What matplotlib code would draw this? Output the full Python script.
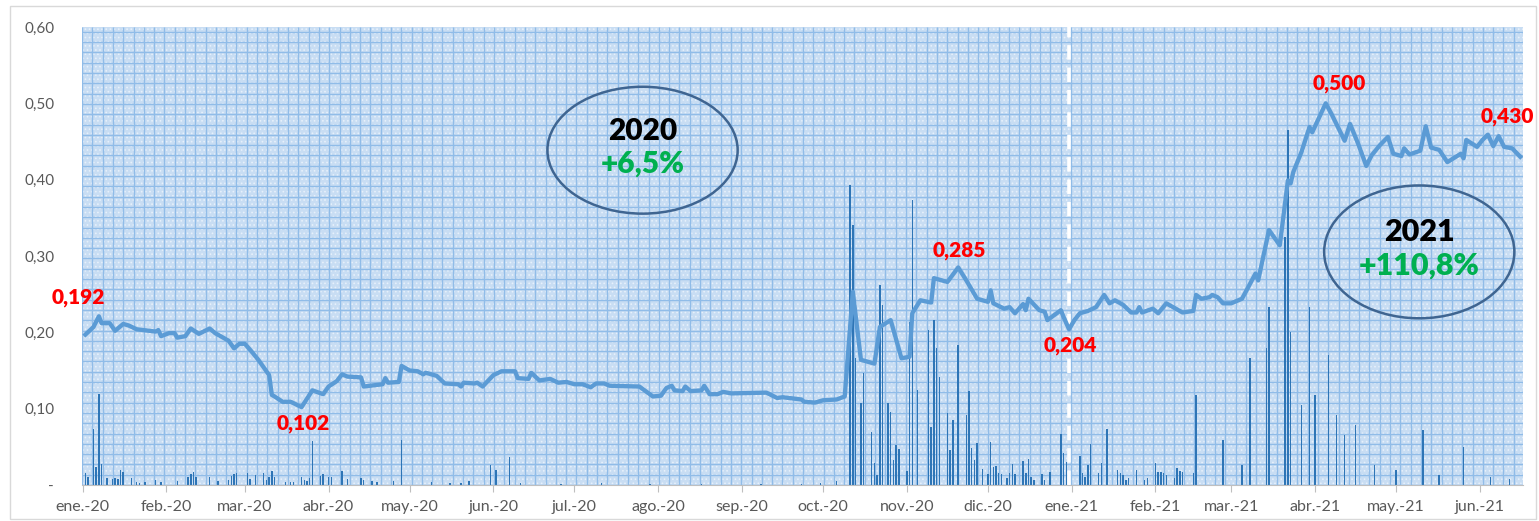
import numpy as np
import pandas as pd
import matplotlib
matplotlib.use('Agg')
import matplotlib.pyplot as plt
from matplotlib.patches import Ellipse, Rectangle
from matplotlib.collections import LineCollection
from matplotlib.ticker import FuncFormatter

'''
Cotizacion diaria 2020-2021 con volumen negociado
'''

# [1] Datos: dia = dias desde el 01/01/2020
inicio = pd.Timestamp('2020-01-01')

dia_precio = [1, 4, 6, 7, 10, 12, 15, 17, 20, 27, 28, 29, 32, 34, 35, 38, 40, 43, 47, 49,
              54, 56, 58, 60, 62, 65, 69, 70, 71, 74, 77, 81, 85, 89, 91, 94, 96, 98, 103, 104,
              111, 112, 113, 117, 118, 121, 124, 126, 127, 131, 134, 139, 140, 141, 145, 146, 148, 152, 155, 160,
              161, 165, 166, 169, 173, 176, 179, 182, 185, 188, 190, 193, 195, 206, 211, 214, 216, 218, 219, 222,
              223, 225, 229, 230, 232, 235, 237, 240, 253, 257, 259, 266, 267, 271, 274, 279, 282, 285, 288, 293,
              295, 299, 303, 306, 307, 310, 314, 315, 320, 324, 327, 331, 335, 336, 337, 341, 343, 345, 348, 349,
              350, 354, 356, 357, 362, 363, 365, 367, 369, 372, 375, 378, 380, 382, 385, 388, 390, 391, 392, 396,
              398, 401, 405, 407, 411, 412, 414, 417, 418, 420, 422, 425, 427, 429, 431, 434, 435, 439, 443, 446,
              447, 448, 451, 454, 455, 460, 462, 467, 469, 472, 475, 477, 480, 483, 485, 488, 489, 491, 495, 497,
              499, 502, 505, 510, 511, 512, 516, 518, 520, 522, 524, 526, 529, 532]
precio = [0.197, 0.207, 0.221, 0.212, 0.212, 0.202, 0.211, 0.209, 0.204, 0.201, 0.203, 0.195, 0.199, 0.199, 0.193, 0.195, 0.205, 0.198, 0.205, 0.199,
          0.189, 0.179, 0.185, 0.185, 0.177, 0.164, 0.144, 0.118, 0.116, 0.109, 0.109, 0.102, 0.124, 0.119, 0.129, 0.136, 0.145, 0.142, 0.141, 0.129,
          0.132, 0.140, 0.134, 0.135, 0.156, 0.150, 0.149, 0.145, 0.147, 0.143, 0.133, 0.132, 0.129, 0.134, 0.133, 0.134, 0.129, 0.144, 0.149, 0.149,
          0.140, 0.139, 0.147, 0.137, 0.139, 0.134, 0.135, 0.132, 0.132, 0.128, 0.133, 0.133, 0.130, 0.129, 0.116, 0.117, 0.127, 0.130, 0.124, 0.123,
          0.129, 0.123, 0.124, 0.130, 0.119, 0.119, 0.122, 0.120, 0.121, 0.114, 0.115, 0.112, 0.109, 0.108, 0.111, 0.112, 0.116, 0.253, 0.164, 0.159,
          0.207, 0.216, 0.166, 0.168, 0.225, 0.242, 0.239, 0.271, 0.266, 0.285, 0.268, 0.244, 0.240, 0.255, 0.238, 0.231, 0.233, 0.225, 0.237, 0.229,
          0.244, 0.229, 0.227, 0.216, 0.229, 0.220, 0.204, 0.216, 0.225, 0.228, 0.233, 0.249, 0.238, 0.242, 0.236, 0.226, 0.226, 0.233, 0.226, 0.231,
          0.225, 0.238, 0.230, 0.226, 0.228, 0.249, 0.244, 0.246, 0.249, 0.246, 0.238, 0.238, 0.241, 0.244, 0.257, 0.277, 0.268, 0.334, 0.314, 0.399,
          0.395, 0.410, 0.436, 0.469, 0.462, 0.500, 0.487, 0.451, 0.473, 0.447, 0.418, 0.432, 0.445, 0.456, 0.434, 0.431, 0.441, 0.433, 0.438, 0.470,
          0.442, 0.439, 0.423, 0.434, 0.428, 0.452, 0.443, 0.452, 0.459, 0.444, 0.457, 0.443, 0.441, 0.430]

# volumen (miles de titulos, aprox.)
dia_vol = [1, 2, 4, 5, 6, 7, 9, 11, 12, 13, 14, 15, 18, 20, 21, 23, 27, 29, 35, 39,
           40, 41, 42, 47, 50, 54, 55, 56, 57, 61, 62, 64, 67, 68, 69, 70, 71, 75, 77, 78,
           81, 82, 83, 84, 85, 88, 89, 91, 92, 96, 98, 103, 104, 107, 109, 115, 118, 129, 136, 140,
           143, 151, 153, 158, 162, 177, 192, 210, 229, 251, 266, 273, 279, 284, 285, 286, 288, 289, 292, 293,
           294, 295, 296, 298, 299, 300, 301, 302, 305, 306, 307, 309, 313, 314, 315, 316, 317, 320, 321, 322,
           324, 327, 328, 329, 330, 331, 333, 335, 336, 337, 338, 339, 340, 342, 343, 344, 345, 348, 349, 350,
           351, 352, 355, 356, 358, 362, 363, 364, 365, 369, 370, 371, 372, 373, 376, 377, 379, 383, 384, 385,
           386, 387, 390, 393, 394, 397, 398, 399, 400, 401, 404, 405, 406, 407, 411, 412, 422, 429, 432, 438,
           439, 445, 446, 447, 451, 454, 456, 461, 464, 467, 471, 478, 486, 496, 502, 511, 521, 528]
volumen = [120, 80, 560, 180, 910, 210, 70, 60, 70, 60, 150, 130, 70, 30, 20, 30, 50, 30, 40, 80,
           110, 130, 80, 80, 40, 50, 90, 110, 120, 120, 60, 100, 120, 50, 80, 140, 80, 30, 30, 30,
           80, 50, 40, 70, 440, 90, 110, 80, 80, 140, 60, 70, 50, 40, 30, 40, 450, 30, 20, 20,
           40, 200, 150, 280, 20, 15, 20, 15, 15, 10, 10, 20, 40, 3000, 2600, 1270, 820, 1120, 530, 220,
           100, 2000, 1800, 820, 730, 250, 400, 360, 140, 1630, 2850, 950, 1550, 580, 1650, 1370, 1080, 720, 350, 650,
           1400, 700, 940, 370, 250, 420, 160, 110, 430, 180, 190, 120, 110, 70, 120, 210, 110, 240, 120, 260,
           80, 50, 110, 50, 130, 510, 320, 230, 130, 290, 120, 80, 200, 410, 120, 220, 560, 150, 120, 100,
           50, 70, 150, 50, 70, 220, 130, 130, 120, 100, 70, 170, 140, 130, 120, 900, 450, 200, 1270, 1370,
           1780, 2480, 3550, 1530, 800, 1780, 900, 1300, 700, 500, 600, 200, 150, 550, 100, 380, 80, 60]

meses = ['ene.-20', 'feb.-20', 'mar.-20', 'abr.-20', 'may.-20', 'jun.-20', 'jul.-20', 'ago.-20', 'sep.-20',
         'oct.-20', 'nov.-20', 'dic.-20', 'ene.-21', 'feb.-21', 'mar.-21', 'abr.-21', 'may.-21', 'jun.-21']
yticks = [0, 0.1, 0.2, 0.3, 0.4, 0.5, 0.6]

# puntos destacados
dia_destacado = [1, 81, 324, 365, 460, 532]
txt_destacado = ['0,192', '0,102', '0,285', '0,204', '0,500', '0,430']

# -------------------
# Plotting and output
# -------------------
fechas = inicio + pd.to_timedelta(dia_precio, unit='D')
fechas_vol = inicio + pd.to_timedelta(dia_vol, unit='D')
ticks_mes = pd.date_range('2020-01-01', periods=len(meses), freq='MS')

plt.rcParams['font.family'] = ['Lato', 'DejaVu Sans']
plt.rcParams['hatch.linewidth'] = 0.7

fig = plt.figure(figsize=(15.39, 5.21), dpi=100)
fig.patches.append(Rectangle((10 / 1539, 2 / 521), 1526 / 1539, 513 / 521, transform=fig.transFigure,
                             fill=False, edgecolor='#d9d9d9', lw=1))
ax = fig.add_axes([82 / 1539, 36 / 521, 1441 / 1539, 458 / 521])

# volumen en eje secundario (detras del precio)
ax2 = ax.twinx()
ax.set_zorder(ax2.get_zorder() + 1)
ax.patch.set_visible(False)

# fondo con trama tipo cuadricula
ax2.patch.set_visible(False)
ax2.add_patch(Rectangle((0, 0), 1, 1, transform=ax2.transAxes, facecolor='#c8ddf3',
                        edgecolor='#e6f0fb', hatch='....', lw=0, zorder=0))
paso_x = 10.3 / 1441
paso_y = 10.3 / 458
lineas = [[(xx, 0), (xx, 1)] for xx in np.arange(0, 1, paso_x)] + \
         [[(0, yy), (1, yy)] for yy in np.arange(0, 1, paso_y)]
ax2.add_collection(LineCollection(lineas, transform=ax2.transAxes, colors='#90bce8', lw=1.0, zorder=1))

ax2.bar(fechas_vol, volumen, width=0.55, color='#2e75b6', zorder=2)
ax2.set_ylim(0, 4580)
ax2.axis('off')

# precio
ax.plot(fechas, precio, color='#5b9bd5', lw=3.1, solid_joinstyle='round', zorder=3)

# separacion de anos
ax.axvline(pd.Timestamp('2020-12-31'), color='white', lw=2.6, ls=(0, (4, 2.2)), zorder=2)

ax.set_ylim(0, 0.6)
ax.set_xlim(pd.Timestamp('2019-12-31 18:00'), pd.Timestamp('2021-06-17'))
ax.set_yticks(yticks)
ax.yaxis.set_major_formatter(FuncFormatter(lambda v, p: '-' if v == 0 else ('%.2f' % v).replace('.', ',')))
ax.set_xticks(ticks_mes)
ax.set_xticklabels(meses)
ax.tick_params(axis='y', length=0, pad=20, labelsize=11, labelcolor='#595959')
ax.tick_params(axis='x', length=5, color='#bfbfbf', pad=6, labelsize=11.5, labelcolor='#595959')
for s in ['top', 'right', 'left']:
    ax.spines[s].set_visible(False)
ax.spines['bottom'].set_color('#bfbfbf')

# etiquetas rojas
offsets = [(-5, 27), (1, -12), (1, 12), (1, -12), (10, 14), (-9, 29)]
for d, t, off in zip(dia_destacado, txt_destacado, offsets):
    i = dia_precio.index(d)
    ax.annotate(t, xy=(fechas[i], precio[i]), xytext=off, textcoords='offset points',
                ha='center', va='center', color='#ff0000', fontsize=15, fontweight='heavy', zorder=5)

# elipses con la variacion anual
for cx, cy, w, h, ano, var, fs in [(0.389, 0.731, 0.132, 0.277, '2020', '+6,5%', 21.5),
                                   (0.928, 0.509, 0.132, 0.290, '2021', '+110,8%', 22)]:
    ax.add_patch(Ellipse((cx, cy), w, h, transform=ax.transAxes, fill=False,
                         edgecolor='#3f6591', lw=1.8, zorder=4))
    ax.text(cx, cy + 0.043, ano, transform=ax.transAxes, ha='center', va='center',
            fontsize=fs, fontweight='heavy', color='black', zorder=5)
    ax.text(cx, cy - 0.030, var, transform=ax.transAxes, ha='center', va='center',
            fontsize=fs, fontweight='heavy', color='#00b050', zorder=5)

plt.savefig('out.png', dpi=100)
